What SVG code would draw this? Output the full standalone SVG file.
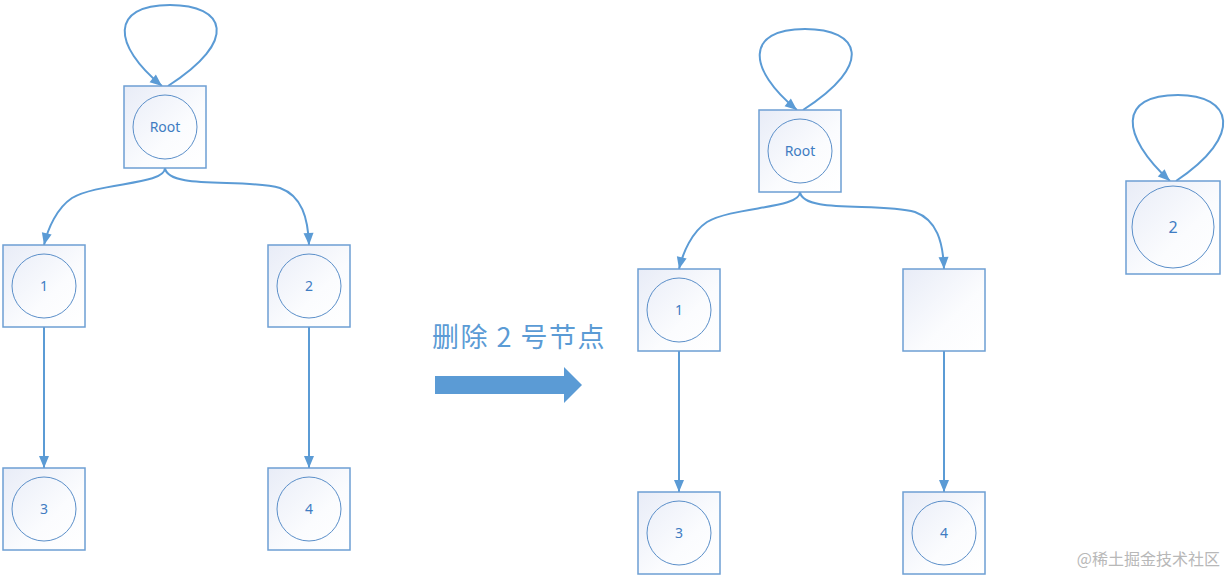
<svg xmlns="http://www.w3.org/2000/svg" width="1230" height="576" viewBox="0 0 1230 576">
<defs>
<linearGradient id="g" x1="0" y1="0" x2="1" y2="1">
<stop offset="0" stop-color="#e8ecf7"/>
<stop offset="0.6" stop-color="#fbfcfe"/>
<stop offset="1" stop-color="#ffffff"/>
</linearGradient>
<marker id="ah" viewBox="0 0 12 10" refX="12" refY="5" markerWidth="12" markerHeight="10" markerUnits="userSpaceOnUse" orient="auto" overflow="visible">
<path d="M0,0 L12,5 L0,10 Z" fill="#5b9bd5"/>
</marker>
<style>
.box{fill:url(#g);stroke:#6d9fd3;stroke-width:1.5}
.c{fill:none;stroke:#5b8fc9;stroke-width:1}
.t{font-family:"Segoe UI","Noto Sans","Liberation Sans",sans-serif;font-size:14px;fill:#3f7cc2;text-anchor:middle}
.e{fill:none;stroke:#5b9bd5;stroke-width:2;marker-end:url(#ah)}
</style>
</defs>
<rect width="1230" height="576" fill="#ffffff"/>
<g id="connectors">
<path class="e" d="M168,86 C240,40 225,5 170,5 C110,5 112,45 162,86"/>
<path class="e" d="M165,168 C165,185 100,182 72,198 C57,208 48,228 44,245"/>
<path class="e" d="M165,168 C168,190 245,178 280,188 C302,196 308,218 309,245"/>
<path class="e" d="M44,327 L44,468"/>
<path class="e" d="M309,327 L309,468"/>
<path class="e" d="M803,110 C875,64 860,29 805,29 C745,29 747,69 797,110"/>
<path class="e" d="M800,192 C800,209 735,206 707,222 C692,232 683,252 679,269"/>
<path class="e" d="M800,192 C803,214 880,202 915,212 C937,220 943,242 944,269"/>
<path class="e" d="M679,351 L679,492"/>
<path class="e" d="M944,351 L944,492"/>
<path class="e" d="M1176,181 C1245,135 1232,95 1178,95 C1118,95 1120,135 1170,181"/>
</g>
<g id="root-left"><rect class="box" x="124" y="86" width="82" height="82"/><circle class="c" cx="165" cy="127" r="32"/><text class="t" x="165" y="132">Root</text></g>
<g id="n1-left"><rect class="box" x="3" y="245" width="82" height="82"/><circle class="c" cx="44" cy="286" r="32"/><text class="t" x="44" y="291">1</text></g>
<g id="n2-left"><rect class="box" x="268" y="245" width="82" height="82"/><circle class="c" cx="309" cy="286" r="32"/><text class="t" x="309" y="291">2</text></g>
<g id="n3-left"><rect class="box" x="3" y="468" width="82" height="82"/><circle class="c" cx="44" cy="509" r="32"/><text class="t" x="44" y="514">3</text></g>
<g id="n4-left"><rect class="box" x="268" y="468" width="82" height="82"/><circle class="c" cx="309" cy="509" r="32"/><text class="t" x="309" y="514">4</text></g>
<g id="label"><text x="432" y="347" style="font-family:'Noto Sans CJK SC','Noto Sans',sans-serif;font-size:27px;letter-spacing:1.5px;fill:#5b9bd5">删除 2 号节点</text></g>
<g id="big-arrow"><path d="M435,376 L564,376 L564,367 L582,385 L564,403 L564,394 L435,394 Z" fill="#5b9bd5"/></g>
<g id="root-right"><rect class="box" x="759" y="110" width="82" height="82"/><circle class="c" cx="800" cy="151" r="32"/><text class="t" x="800" y="156">Root</text></g>
<g id="n1-right"><rect class="box" x="638" y="269" width="82" height="82"/><circle class="c" cx="679" cy="310" r="32"/><text class="t" x="679" y="315">1</text></g>
<g id="empty-right"><rect class="box" x="903" y="269" width="82" height="82"/></g>
<g id="n3-right"><rect class="box" x="638" y="492" width="82" height="82"/><circle class="c" cx="679" cy="533" r="32"/><text class="t" x="679" y="538">3</text></g>
<g id="n4-right"><rect class="box" x="903" y="492" width="82" height="82"/><circle class="c" cx="944" cy="533" r="32"/><text class="t" x="944" y="538">4</text></g>
<g id="n2-detached"><rect class="box" x="1126" y="181" width="94" height="93"/><circle class="c" cx="1173" cy="227" r="41"/><text class="t" x="1173" y="233" style="font-size:16px">2</text></g>
<g id="watermark"><text x="1220" y="565" style="font-family:'Noto Sans CJK SC','Noto Sans',sans-serif;font-size:16px;fill:#b8b8b8;text-anchor:end">@稀土掘金技术社区</text></g>
</svg>
